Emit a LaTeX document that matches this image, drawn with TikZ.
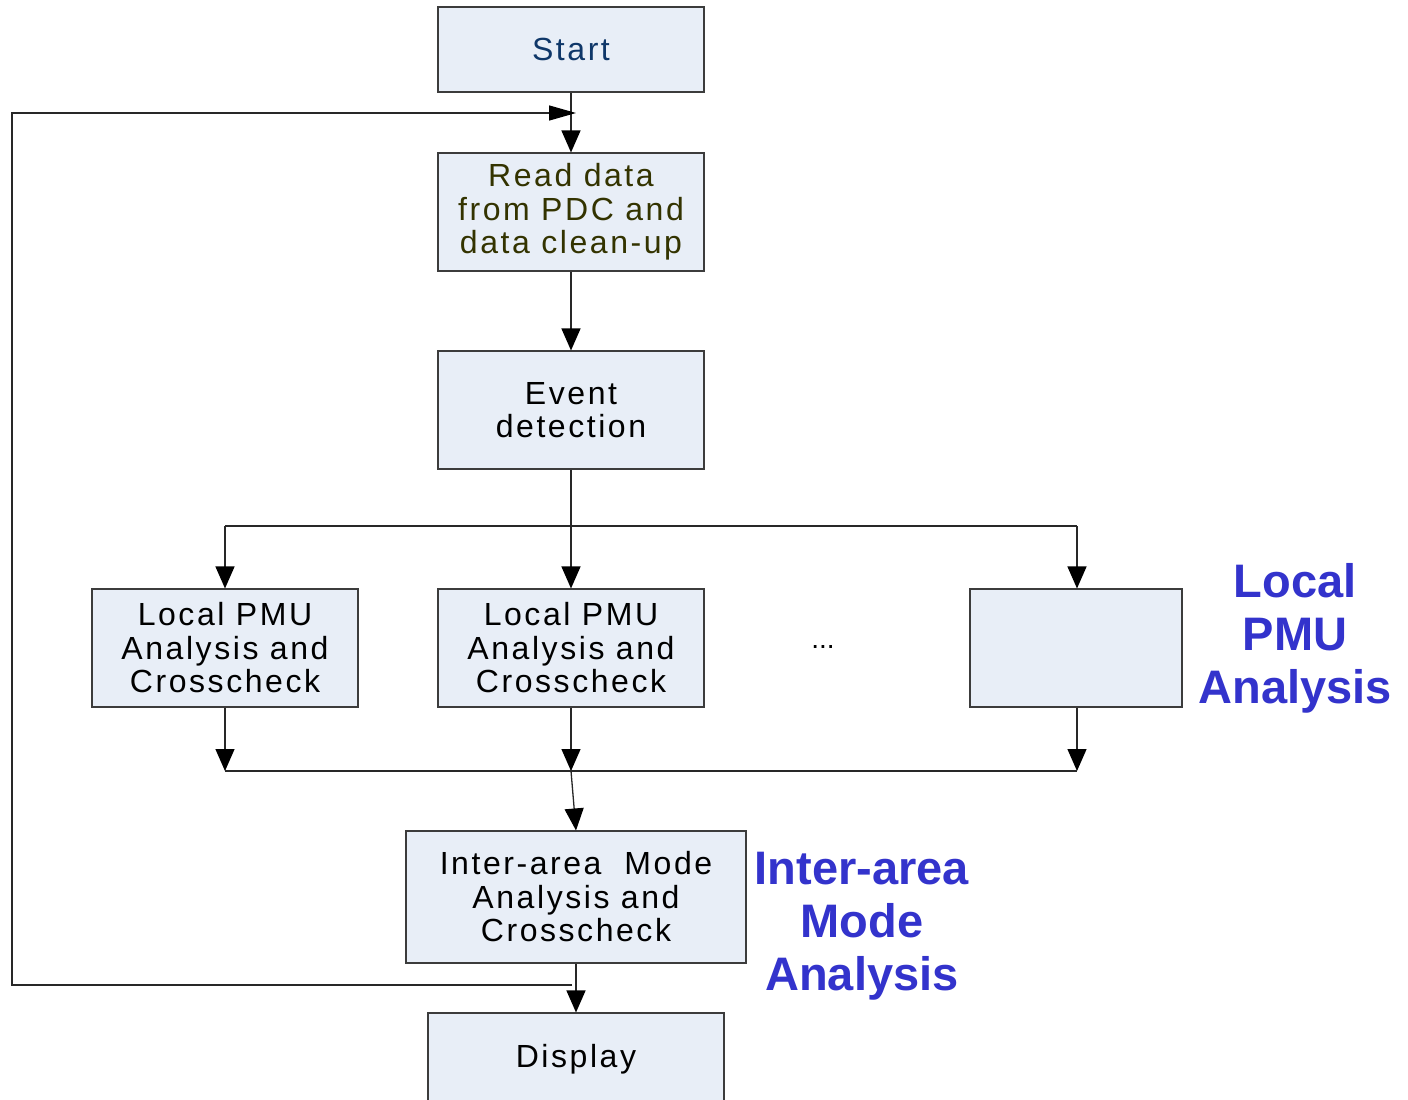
\documentclass[tikz,border=0pt]{standalone}
\usepackage{fontspec}
\setmainfont{Liberation Sans}
\newfontfamily\boxfont[LetterSpace=8]{Liberation Sans}
\usetikzlibrary{arrows.meta}
\definecolor{boxfill}{RGB}{232,238,247}
\definecolor{boxline}{RGB}{60,60,60}
\definecolor{startblue}{RGB}{15,55,105}
\definecolor{olivetext}{RGB}{51,51,0}
\definecolor{labelblue}{RGB}{51,51,204}
\definecolor{linegray}{RGB}{40,40,40}
\tikzset{
  x=1pt, y=-1pt,
  stepbox/.style={draw=boxline, fill=boxfill, line width=1.1pt, inner sep=0pt,
    align=center, font=\boxfont\fontsize{32}{33.5}\selectfont},
  conn/.style={draw=linegray, line width=1.3pt},
  arr/.style={conn, -{Triangle[length=22pt,width=19pt,color=black]}},
  farr/.style={conn, -{Triangle[length=27pt,width=15pt,color=black]}},
  biglabel/.style={align=center, text=labelblue, font=\bfseries\fontsize{47}{53}\selectfont}
}
\begin{document}
\begin{tikzpicture}
\useasboundingbox (0,0) rectangle (1408,1100);
\clip (0,0) rectangle (1408,1100);
\fill[white] (0,0) rectangle (1408,1100);

\node[stepbox, minimum width=266pt, minimum height=85pt, text=startblue] (start) at (571,49.5) {Start};
\node[stepbox, minimum width=266pt, minimum height=118pt, text=olivetext] (read) at (571,212) {Read data\\from PDC and\\data clean-up};
\node[stepbox, minimum width=266pt, minimum height=118pt] (event) at (571,410) {Event\\detection};
\node[stepbox, minimum width=266pt, minimum height=118pt] (loc1) at (225,648) {Local PMU\\Analysis and\\Crosscheck};
\node[stepbox, minimum width=266pt, minimum height=118pt] (loc2) at (571,648) {Local PMU\\Analysis and\\Crosscheck};
\node[stepbox, minimum width=212pt, minimum height=118pt] (loc3) at (1076,648) {};
\node[font=\fontsize{28}{30}\selectfont] (dots) at (823,647) {...};
\node[stepbox, minimum width=340pt, minimum height=132pt] (inter) at (576,897) {Inter-area\ \ Mode\\Analysis and\\Crosscheck};
\node[stepbox, minimum width=296pt, minimum height=92pt] (disp) at (576,1059) {Display};

\node[biglabel] (lbl1) at (1295,638) {Local\\PMU\\Analysis};
\node[biglabel] (lbl2) at (862,926) {Inter-area\\Mode\\Analysis};

% coordinates
\coordinate (join) at (576,113);
\coordinate (bl) at (225,526);
\coordinate (bm) at (571,526);
\coordinate (br) at (1077,526);
\coordinate (ol) at (225,771);
\coordinate (om) at (571,771);
\coordinate (or) at (1077,771);
\coordinate (fbs) at (572,985);
\coordinate (fbl) at (12,985);

% main flow
\draw[arr] (start.south) -- (read.north);
\draw[arr] (read.south) -- (event.north);
\draw[arr] (event.south) -- (loc2.north);
\draw[conn] (bl) -- (br);
\draw[arr] (bl) -- (loc1.north);
\draw[arr] (br) -- (loc3.north -| br);
\draw[arr] (loc1.south) -- (ol);
\draw[arr] (loc2.south) -- (om);
\draw[arr] (loc3.south -| or) -- (or);
\draw[conn] (ol) -- (or);
\draw[arr] (om) -- (inter.north);
\draw[arr] (inter.south) -- (disp.north);

% feedback loop
\draw[farr] (fbs) -- (fbl) |- (join);
\end{tikzpicture}
\end{document}
